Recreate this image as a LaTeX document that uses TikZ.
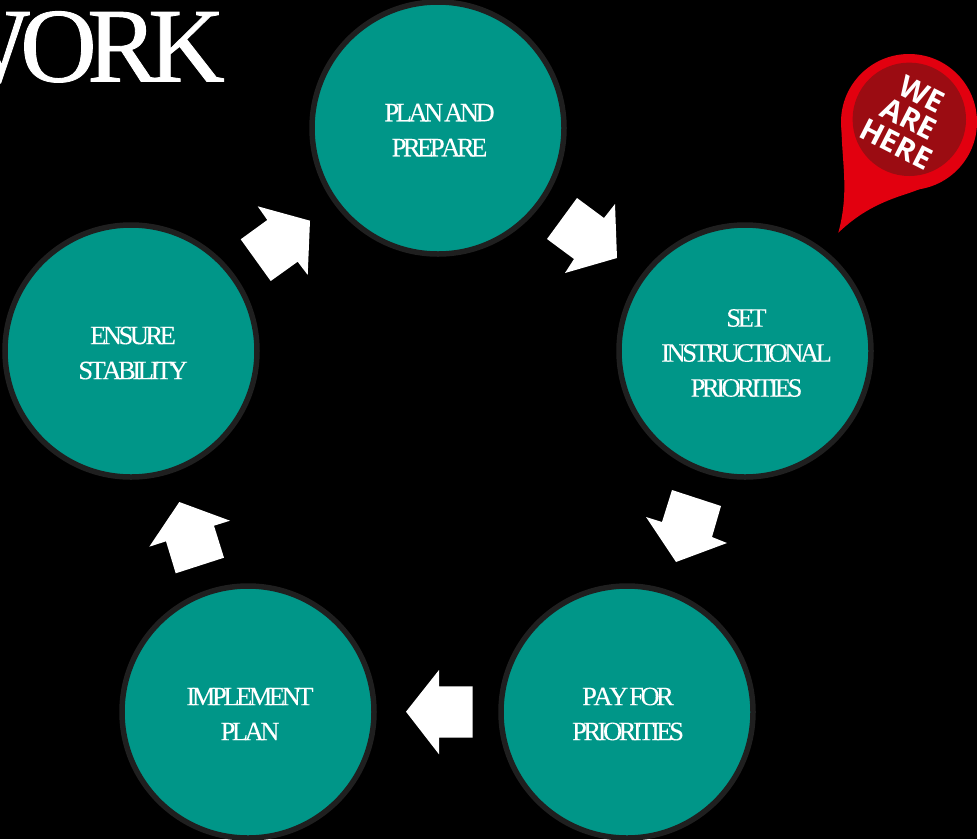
\documentclass[tikz,border=0pt]{standalone}
\usepackage{fontspec}
\setmainfont{Liberation Serif}
\newfontfamily\stagefont[LetterSpace=-13,Kerning=Off,WordSpace=0.3,FakeBold=0.15]{Liberation Serif}
\newfontfamily\titlefont[LetterSpace=-9,FakeBold=0.8]{Liberation Serif}
\newfontfamily\pinfont{Open Sans}
\definecolor{teal1}{RGB}{0,150,136}
\definecolor{ring}{RGB}{31,31,31}
\definecolor{pinred}{RGB}{226,0,15}
\definecolor{pindark}{RGB}{155,12,18}
\tikzset{
 x=1pt,y=-1pt,
 stage/.style={circle,draw=ring,line width=5.5pt,fill=teal1,minimum size=252pt,inner sep=0pt},
 stagetext/.style={text=white,align=center,inner sep=0pt,
   font=\fontsize{26.5}{35}\selectfont\stagefont},
 blockarrow/.style={fill=white,draw=none},
}
\begin{document}
\begin{tikzpicture}
\path[fill=black,use as bounding box] (0,0) rectangle (977,839);
\clip (0,0) rectangle (977,839);
\node[anchor=base east,text=white,inner sep=0pt,font=\fontsize{106}{106}\selectfont\titlefont] (title) at (225,81.5) {WORK};
\node[stage] (plan) at (438,128) {};
\node[stage] (set) at (745,351) {};
\node[stage] (pay) at (627,712) {};
\node[stage] (impl) at (248,712) {};
\node[stage] (ensure) at (131,351) {};
\node[stagetext] (plantext) at (439.5,130) {PLAN AND\\PREPARE};
\node[stagetext] (settext) at (746.5,353) {SET\\INSTRUCTIONAL\\PRIORITIES};
\node[stagetext] (paytext) at (628,714) {PAY FOR\\PRIORITIES};
\node[stagetext] (impltext) at (250,714) {IMPLEMENT\\PLAN};
\node[stagetext] (ensuretext) at (133,353) {ENSURE\\STABILITY};
% block arrows
\fill[blockarrow] (577,198)--(604,218)--(615,204)--(617,258)--(565,273)--(574,259)--(547,239)--cycle;
\fill[blockarrow] (672,490)--(721,506)--(712,537)--(727,543)--(676,562)--(646,517)--(662,522)--cycle;
\fill[blockarrow] (406,711.7)--(439,670)--(439,686.3)--(472.7,686.3)--(472.7,737.7)--(439,737.7)--(439,754.3)--cycle;
\fill[blockarrow] (179.3,502)--(230,520.7)--(214,525.7)--(224,557.7)--(175.7,573.3)--(166,541.3)--(149.3,546.7)--cycle;
\fill[blockarrow] (257.7,206.3)--(310,220.7)--(307.7,275)--(297.7,261.7)--(270.7,281)--(240.7,239.3)--(267.3,220)--cycle;
% pin
\fill[pinred] (909,122) circle[radius=68];
\fill[pinred] (841.5,122) .. controls (841,160) and (850,190) .. (838.3,232.7)
  .. controls (860,212) and (880,203) .. (900,196) .. controls (925,188) and (950,178) .. (962,162) -- (909,122) -- cycle;
\fill[pindark] (909.3,119.3) circle[radius=56.7];
\node[rotate=-27,text=white,align=center,inner sep=0pt,font=\fontsize{30}{28}\selectfont\pinfont\bfseries] (pin) at (909,119) {WE\\ARE\\HERE};
\end{tikzpicture}
\end{document}
